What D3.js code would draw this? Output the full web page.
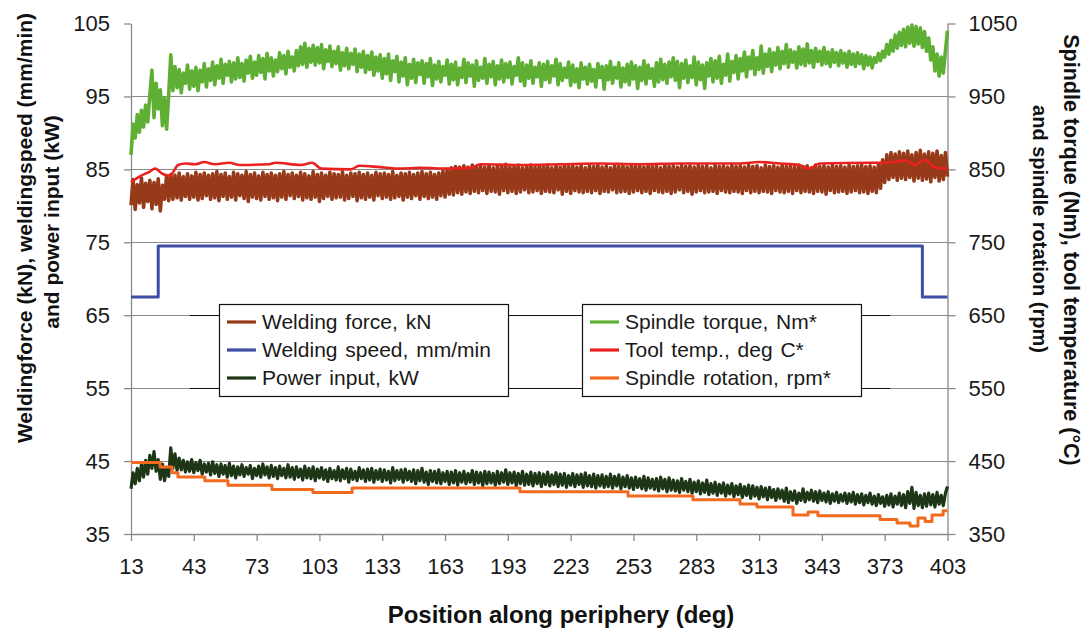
<!DOCTYPE html>
<html>
<head>
<meta charset="utf-8">
<script src="https://cdn.jsdelivr.net/npm/d3@7"></script>
<style>
  html, body { margin: 0; padding: 0; background: #fff; }
  svg { display: block; font-family: "Liberation Sans", Arial, sans-serif; }
</style>
</head>
<body>
<svg id="chart" width="1089" height="630"></svg>
<script>
// ---------------- DATA ----------------
const degStart = 13, degEnd = 403;
const xTicks = [13, 43, 73, 103, 133, 163, 193, 223, 253, 283, 313, 343, 373, 403];
const leftTicks = [35, 45, 55, 65, 75, 85, 95, 105];
const rightTicks = [350, 450, 550, 650, 750, 850, 950, 1050];

// sampled every 1 deg from 13 to 403
const degrees = d3.range(degStart, degEnd + 1);

// Spindle torque, Nm (right axis)
const torque = [
 870,912,893,925,901,931,908,938,915,952,
 986,921,968,933,959,910,948,905,952,1007,
 958,991,962,987,955,982,968,993,960,985,
 964,990,958,986,970,995,963,988,972,997,
 966,992,975,1001,968,994,979,998,970,996,
 974,1003,976,995,971,1000,982,1005,975,997,
 979,1006,983,1002,974,1009,985,1003,978,1000,
 984,1010,988,1006,981,1012,990,1004,985,1013,
 992,1018,994,1023,990,1016,997,1020,993,1017,
 996,1021,988,1014,998,1019,991,1012,995,1018,
 986,1010,992,1016,988,1009,994,1015,984,1008,
 990,1012,983,1006,987,1011,979,1004,985,1007,
 975,1002,981,1008,972,999,984,1005,970,997,
 978,1003,966,994,975,1001,969,996,980,999,
 968,995,977,1002,965,993,974,998,970,991,
 979,1000,967,994,973,997,966,989,976,1001,
 969,996,978,993,964,999,972,990,975,1002,
 968,994,977,998,966,992,974,1000,970,995,
 976,997,967,991,979,1003,971,996,965,993,
 975,999,968,990,977,996,964,994,973,998,
 969,992,978,1001,966,995,972,989,976,997,
 965,993,970,988,962,996,974,990,967,994,
 971,987,963,995,976,991,960,992,973,998,
 968,990,975,996,963,989,970,994,966,997,
 974,992,961,990,972,999,967,993,975,988,
 964,996,970,1001,973,994,968,997,977,1003,
 972,998,962,995,975,1000,969,992,976,1004,
 966,997,973,993,961,996,978,1002,970,999,
 975,1005,968,994,979,1008,971,998,983,1006,
 974,1002,985,1011,977,1004,988,1013,980,1003,
 987,1019,982,1008,991,1015,984,1010,993,1017,
 988,1012,995,1021,990,1014,997,1011,989,1018,
 994,1015,992,1022,996,1013,990,1016,998,1012,
 993,1017,995,1011,991,1014,997,1010,992,1013,
 996,1009,990,1012,994,1008,991,1010,995,1007,
 988,1006,993,1004,989,1003,997,1009,999,1012,
 1004,1021,1008,1027,1012,1034,1016,1038,1020,1042,
 1018,1045,1023,1048,1019,1046,1022,1044,1017,1039,
 1012,1030,1000,1018,985,1008,978,1004,982,1012,1040
];

// Welding force, kN (left axis)
const force = [
 80.1,83.6,79.5,82.9,80.4,83.8,79.8,83.1,80.6,83.5,
 79.6,83.2,80.2,83.7,79.3,82.8,80.9,84.1,80.7,84.3,
 80.9,84.2,81.1,84.5,80.8,84.0,81.3,84.4,80.9,84.1,
 81.2,84.6,80.8,84.3,81.0,84.5,81.4,84.2,80.9,84.4,
 81.1,84.7,80.7,84.3,81.3,84.5,80.9,84.0,81.2,84.6,
 80.8,84.4,81.4,84.2,81.0,84.7,80.6,84.3,81.2,84.5,
 81.0,84.1,80.8,84.6,81.3,84.3,80.9,84.5,81.1,84.2,
 80.7,84.4,81.2,84.7,80.9,84.3,81.4,84.5,81.0,84.2,
 81.3,84.6,80.8,84.4,81.1,84.1,80.9,84.7,81.2,84.3,
 80.6,84.5,81.0,84.2,81.3,84.6,80.9,84.4,81.1,84.3,
 81.2,84.7,80.8,84.2,81.0,84.5,81.3,84.4,80.7,84.6,
 81.1,84.3,80.9,84.5,81.2,84.2,80.8,84.6,81.4,84.4,
 81.0,84.5,81.2,84.3,80.9,84.7,81.1,84.2,81.3,84.5,
 80.8,84.4,81.2,84.6,81.0,84.3,81.4,84.5,80.9,84.7,
 81.3,84.4,81.0,84.6,81.2,84.3,80.9,84.5,81.4,84.8,
 81.2,85.0,81.6,85.2,81.5,85.4,81.8,85.3,81.6,85.5,
 81.9,85.3,81.7,85.6,82.0,85.4,81.8,85.5,82.1,85.3,
 81.7,85.6,82.0,85.2,81.9,85.5,81.6,85.4,82.1,85.7,
 81.8,85.3,82.0,85.5,81.7,85.6,81.9,85.2,82.2,85.4,
 81.8,85.6,81.9,85.3,82.1,85.5,81.7,85.4,82.0,85.6,
 81.9,85.2,81.8,85.5,82.2,85.3,81.6,85.6,82.0,85.4,
 81.7,85.5,82.1,85.3,81.9,85.6,81.8,85.2,82.0,85.5,
 81.8,85.4,82.1,85.6,81.7,85.3,82.0,85.5,81.9,85.2,
 82.2,85.6,81.8,85.4,81.9,85.5,82.0,85.3,81.7,85.6,
 81.9,85.4,82.1,85.5,81.8,85.3,82.0,85.6,81.7,85.4,
 82.1,85.5,81.9,85.2,81.8,85.6,82.0,85.4,81.7,85.5,
 81.9,85.3,82.2,85.6,81.8,85.4,82.0,85.5,81.6,85.3,
 81.9,85.6,82.1,85.4,81.8,85.5,81.9,85.2,82.0,85.6,
 81.7,85.4,82.1,85.5,81.9,85.3,81.8,85.6,82.0,85.4,
 81.9,85.5,81.7,85.3,82.1,85.6,81.8,85.4,82.0,85.5,
 81.8,85.2,82.0,85.6,81.9,85.4,81.7,85.5,82.1,85.3,
 81.9,85.6,81.8,85.4,82.0,85.5,81.7,85.3,82.1,85.6,
 81.8,85.4,82.0,85.5,81.9,85.2,81.7,85.6,82.0,85.4,
 81.9,85.5,81.6,85.3,82.1,85.6,81.8,85.4,81.9,85.5,
 82.0,85.3,81.7,85.6,81.9,85.4,82.1,85.5,81.8,85.6,
 81.9,85.4,81.7,85.5,82.0,85.3,81.8,85.7,82.4,86.3,
 83.2,87.0,83.6,87.3,83.9,87.1,83.5,87.4,83.8,87.2,
 83.6,87.5,83.9,87.0,83.4,87.3,83.8,87.6,83.5,87.1,
 83.7,87.4,83.3,87.2,83.9,87.5,83.4,86.9,83.6,87.3,84.0
];

// Power input, kW (left axis)
const power = [
 41.2,43.4,41.9,44.0,42.3,44.6,42.8,45.1,43.2,45.8,
 44.0,46.3,43.6,45.2,42.5,44.6,42.3,44.1,42.9,46.8,
 44.0,46.0,43.7,45.4,43.8,45.1,43.5,44.9,43.6,45.2,
 43.4,44.8,43.7,45.1,43.2,44.6,43.5,44.7,43.1,44.9,
 43.3,44.5,42.9,44.6,43.2,44.4,42.8,44.7,43.0,44.3,
 42.7,44.2,43.1,44.5,42.9,44.1,43.2,44.4,42.6,44.0,
 43.0,44.3,42.8,44.6,43.1,44.2,42.7,44.4,42.9,44.1,
 42.6,44.3,43.0,44.0,42.7,44.5,42.8,44.1,42.5,44.2,
 42.8,43.9,42.4,44.3,42.7,44.0,42.6,44.2,42.3,43.9,
 42.7,44.1,42.5,43.8,42.2,44.0,42.6,43.7,42.4,44.2,
 42.3,43.8,42.6,44.0,42.1,43.9,42.5,43.6,42.3,44.1,
 42.6,43.8,42.2,43.9,42.4,44.0,42.1,43.7,42.5,43.9,
 42.2,43.8,42.4,43.6,42.0,44.1,42.3,43.7,42.5,43.8,
 42.1,43.9,42.4,43.6,42.2,43.8,41.9,43.7,42.3,44.0,
 42.1,43.5,41.8,43.7,42.2,43.6,42.0,43.8,41.9,43.4,
 42.2,43.6,41.8,43.5,42.0,43.7,41.7,43.4,42.1,43.6,
 41.9,43.3,42.1,43.7,41.8,43.5,42.0,43.4,41.6,43.6,
 41.9,43.5,42.0,43.3,41.7,43.6,41.9,43.4,42.1,43.8,
 41.8,43.4,42.0,43.5,41.6,43.3,41.9,43.6,41.7,43.2,
 41.8,43.5,41.6,43.3,41.9,43.4,41.5,43.2,41.8,43.5,
 41.6,43.1,41.8,43.4,41.5,43.2,41.7,43.3,41.4,43.0,
 41.7,43.3,41.5,43.1,41.8,43.2,41.4,43.4,41.6,43.0,
 41.5,43.2,41.3,43.0,41.6,43.1,41.4,42.9,41.5,43.2,
 41.3,42.9,41.6,43.1,41.2,42.8,41.5,43.0,41.3,42.7,
 41.1,42.8,41.4,42.6,41.2,42.9,41.0,42.7,41.3,42.5,
 41.1,42.6,40.9,42.8,41.2,42.5,40.8,42.7,41.0,42.4,
 40.9,42.3,40.7,42.6,41.0,42.2,40.8,42.5,40.6,42.1,
 40.8,42.3,40.5,42.0,40.7,42.4,40.4,41.9,40.6,42.1,
 40.3,41.8,40.6,42.0,40.2,41.7,40.5,41.9,40.1,41.6,
 40.4,41.8,40.0,41.5,40.3,41.7,39.9,41.6,40.2,41.4,
 39.8,41.5,40.1,41.3,39.7,41.4,40.0,41.1,39.6,41.2,
 39.9,41.0,39.5,41.3,39.3,40.8,39.6,40.9,39.2,40.6,
 39.6,41.2,39.4,40.7,39.7,41.0,39.5,40.8,39.3,40.9,
 39.6,40.6,39.4,40.8,39.2,40.5,39.5,40.7,39.3,40.4,
 39.5,40.6,39.2,40.5,39.4,40.7,39.1,40.4,39.3,40.5,
 39.0,40.3,39.3,40.6,39.1,40.2,38.9,40.4,39.2,40.1,
 38.8,40.3,39.0,40.5,38.7,40.2,39.1,40.6,38.9,40.4,
 38.6,40.8,39.2,41.4,38.5,40.7,38.9,40.3,38.6,40.5,
 38.8,40.6,39.0,40.4,38.7,40.7,39.1,40.3,38.9,40.6,41.5
];

// Welding speed, mm/min (left axis) - step changes
const speedPos = [13, 26, 391, 403];
const speed    = [67.5, 74.5, 67.5, 67.5];

// Tool temperature, deg C (right axis)
const tempPos = [13, 17, 22, 24.5, 28, 31.5, 35.5, 39, 43.5, 48, 53, 60, 65, 79, 82, 94, 99.5, 104, 118, 122, 132, 141, 151, 165, 175, 180, 199, 218, 237, 256, 275, 285, 304, 313, 323, 332, 337, 342, 366, 373, 383, 387.5, 392, 397, 403];
const temp    = [832, 840, 847, 851, 844, 841, 856, 858, 857, 860, 857, 859, 856, 857, 859, 856, 859, 851, 850, 855, 853, 851, 852, 851, 852, 857, 856, 857, 858, 857, 858, 858, 858, 860, 858, 856, 851, 858, 859, 859, 862, 856, 863, 853, 851];

// Spindle rotation, rpm (right axis) - step changes
const rotPos = [13, 26.9, 32.6, 35.4, 48.3, 59.3, 80.3, 99.9, 118.6, 198.8, 250.4, 281.4, 303.9, 312, 329.2, 336.4, 341.1, 370.8, 378.9, 385.1, 388.9, 392.3, 395.6, 400.9, 403];
const rotation = [448, 442, 434, 428, 423, 417, 411, 407, 413, 408, 402, 397, 391, 387, 376, 380, 375, 370, 365, 361, 372, 367, 376, 382, 382];

const legendLeft = ["Welding force, kN", "Welding speed, mm/min", "Power input, kW"];
const legendRight = ["Spindle torque, Nm*", "Tool temp., deg C*", "Spindle rotation, rpm*"];

// ---------------- STYLE ----------------
const C = {
  force: "#963A19", speed: "#3E4DA6", power: "#1C3616",
  torque: "#5EAF33", temp: "#E8221F", rot: "#F26A1E",
  grid: "#8a8a8a", text: "#1a1a1a"
};

const svg = d3.select("#chart");
const x = d3.scaleLinear().domain([degStart, degEnd]).range([131, 947.5]);
const yL = d3.scaleLinear().domain([35, 105]).range([534, 23.5]);
const yR = d3.scaleLinear().domain([350, 1050]).range([534, 23.5]);

// gridlines
svg.append("g").selectAll("line").data(leftTicks.filter(v => v > 35 && v < 105)).join("line")
  .attr("x1", x(degStart)).attr("x2", x(degEnd))
  .attr("y1", d => Math.round(yL(d)) + 0.5).attr("y2", d => Math.round(yL(d)) + 0.5)
  .attr("stroke", C.grid).attr("stroke-width", 1.2);
// darker segments of the 65/55 gridlines around the legends
svg.append("g").selectAll("line").data([65, 55]).join("line")
  .attr("x1", 190).attr("x2", 890)
  .attr("y1", d => Math.round(yL(d)) + 0.5).attr("y2", d => Math.round(yL(d)) + 0.5)
  .attr("stroke", "#111").attr("stroke-width", 1.2);

// axes
function styleAxis(g) {
  g.select(".domain").attr("stroke", C.grid).attr("stroke-width", 1.3);
  g.selectAll(".tick line").attr("stroke", C.grid).attr("stroke-width", 1.3);
  g.selectAll(".tick text").attr("fill", C.text).style("font-size", "22px")
    .style("font-family", '"Liberation Sans", Arial, sans-serif');
}
svg.append("g").attr("transform", "translate(131,0)")
  .call(d3.axisLeft(yL).tickValues(leftTicks).tickFormat(d3.format("d")).tickSize(7).tickPadding(14).tickSizeOuter(0))
  .call(styleAxis);
svg.append("g").attr("transform", "translate(947.5,0)")
  .call(d3.axisRight(yR).tickValues(rightTicks).tickFormat(d3.format("d")).tickSize(8).tickPadding(13).tickSizeOuter(0))
  .call(styleAxis);
svg.append("g").attr("transform", "translate(0,534)")
  .call(d3.axisBottom(x).tickValues(xTicks).tickFormat(d3.format("d")).tickSize(7).tickPadding(17).tickSizeOuter(0))
  .call(styleAxis);

// series
const lineL = (xs, ys, curve) => d3.line().x((d, i) => x(xs[i])).y(d => yL(d)).curve(curve || d3.curveLinear)(ys);
const lineR = (xs, ys, curve) => d3.line().x((d, i) => x(xs[i])).y(d => yR(d)).curve(curve || d3.curveLinear)(ys);

const series = svg.append("g").attr("fill", "none").attr("stroke-linejoin", "round");
series.append("path").attr("d", lineL(degrees, force)).attr("stroke", C.force).attr("stroke-width", 3.6);
series.append("path").attr("d", lineL(speedPos, speed, d3.curveStepAfter)).attr("stroke", C.speed).attr("stroke-width", 3);
series.append("path").attr("d", lineL(degrees, power)).attr("stroke", C.power).attr("stroke-width", 3.2);
series.append("path").attr("d", lineR(degrees, torque)).attr("stroke", C.torque).attr("stroke-width", 3.6);
series.append("path").attr("d", lineR(tempPos, temp, d3.curveMonotoneX)).attr("stroke", C.temp).attr("stroke-width", 2.6);
series.append("path").attr("d", lineR(rotPos, rotation, d3.curveStepAfter)).attr("stroke", C.rot).attr("stroke-width", 3);

// legends
function legend(x0, x1, items, colors) {
  const g = svg.append("g");
  g.append("rect").attr("x", x0 + 0.5).attr("y", 304.5).attr("width", x1 - x0).attr("height", 92)
    .attr("fill", "#fff").attr("stroke", "#111").attr("stroke-width", 1.2);
  items.forEach((t, i) => {
    const yy = 322 + i * 28;
    g.append("line").attr("x1", x0 + 8).attr("x2", x0 + 37).attr("y1", yy).attr("y2", yy)
      .attr("stroke", colors[i]).attr("stroke-width", 3.2);
    g.append("text").attr("x", x0 + 43).attr("y", yy).attr("dy", "0.35em")
      .attr("fill", C.text).style("font-size", "21px").style("word-spacing", "2px").text(t);
  });
}
legend(219, 508, legendLeft, [C.force, C.speed, C.power]);
legend(582, 861, legendRight, [C.torque, C.temp, C.rot]);

// titles
svg.append("text").attr("x", 561).attr("y", 623).attr("text-anchor", "middle")
  .style("font-size", "24px").style("font-weight", "bold").attr("fill", "#111")
  .text("Position along periphery (deg)");
const lt = [["Weldingforce (kN), weldingspeed (mm/min)", 25, 228, 21], ["and power input (kW)", 52, 222, 21]];
lt.forEach(([t, cx, cy, fs]) => svg.append("text")
  .attr("transform", `translate(${cx},${cy}) rotate(-90)`).attr("text-anchor", "middle").attr("dy", "0.35em")
  .style("font-size", fs + "px").style("font-weight", "bold").attr("fill", "#111").text(t));
const rt = [["Spindle torque (Nm), tool temperature (°C)", 1072, 250, 21.5], ["and spindle rotation (rpm)", 1040, 229, 20]];
rt.forEach(([t, cx, cy, fs]) => svg.append("text")
  .attr("transform", `translate(${cx},${cy}) rotate(90)`).attr("text-anchor", "middle").attr("dy", "0.35em")
  .style("font-size", fs + "px").style("font-weight", "bold").attr("fill", "#111").text(t));
</script>
</body>
</html>
